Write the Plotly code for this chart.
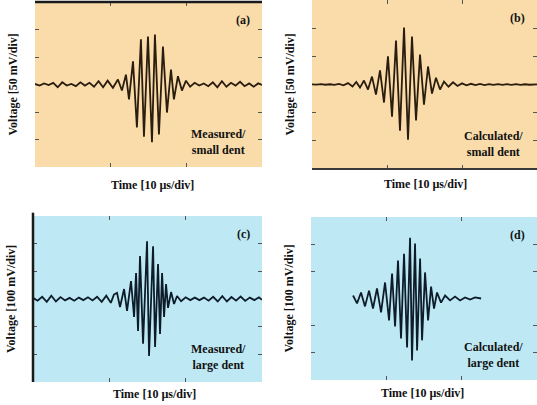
import plotly.graph_objects as go

# ---------------- data (time in µs, voltage in mV) ----------------
# (a) Measured / small dent  (50 mV/div)
t_a = [0.0, 0.6, 1.2, 1.8, 2.4, 3.0, 3.6, 4.2, 4.8, 5.4, 6.0, 6.6, 7.2, 7.8, 8.4, 9.0, 9.6, 10.3,
       10.96, 11.49, 12.02, 12.42, 12.95, 13.47, 14.0, 14.4, 14.93, 15.46, 15.85, 16.38, 16.91,
       17.44, 17.97, 18.36, 18.89, 19.42, 19.95,
       20.5, 21.1, 21.7, 22.3, 22.9, 23.5, 24.1, 24.7, 25.3, 25.9, 26.5, 27.1, 27.7, 28.3, 28.9, 29.5, 30.0]
v_a = [1, -2, 2, -1, 3, -5, 4, -2, 1, -3, 4, -2, 3, -4, 6, -5, 7, -6,
       9, -11, 18, -27, 42, -78, 82, -95, 87, -105, 91, -91, 69,
       -51, 27, -27, 15, -11, 7,
       -4, 3, -2, 2, -3, 4, -5, 6, -4, 3, -2, 5, -3, 2, -4, 2, -1]

# (b) Calculated / small dent  (50 mV/div)
t_b = [0.0, 0.6, 1.2, 1.8, 2.4, 3.0, 3.6, 4.2, 4.8, 5.4, 5.9, 6.4,
       6.93, 7.47, 8.0, 8.53, 9.07, 9.6, 10.13, 10.67, 11.2, 11.73, 12.27, 12.8, 13.33, 13.87,
       14.4, 14.93, 15.47, 16.0, 16.53, 17.07, 17.6,
       18.2, 18.8, 19.4, 20.0, 20.6, 21.2, 21.8, 22.4, 23.0, 23.6, 24.2, 24.8, 25.4, 26.0, 26.6,
       27.2, 27.8, 28.4, 29.0, 30.0]
v_b = [0.3, -0.3, 0.5, -0.4, 0.4, -0.6, 1.0, -1.5, 2.5, -3.5, 4.5, -5.5,
       7, -9, 14, -18, 25, -32, 50, -57, 78, -82, 101, -98, 85, -64,
       53, -36, 32, -16, 12, -9, 5,
       -4, 4, -2.5, 2, -1.5, 1.2, -1.2, 1, -1, 0.8, -0.8, 0.7, -0.7, 0.6, -0.6,
       0.5, -0.5, 0.4, -0.4, 0.3]

# (c) Measured / large dent  (100 mV/div)
t_c = [0.0, 0.6, 1.2, 1.8, 2.4, 3.0, 3.6, 4.2, 4.8, 5.4, 6.0, 6.6, 7.2, 7.8, 8.4, 9.0, 9.6, 10.2, 10.6,
       11.01, 11.40, 11.93, 12.32, 12.84, 13.24, 13.50, 13.76, 14.02, 14.42, 14.94, 15.20, 15.73,
       15.99, 16.38, 16.64, 16.91, 17.17, 17.43, 17.69, 18.09, 18.48, 18.87,
       19.4, 20.0, 20.6, 21.2, 21.8, 22.4, 23.0, 23.6, 24.2, 24.8, 25.4, 26.0, 26.6, 27.2, 27.8,
       28.4, 29.0, 29.6, 30.0]
v_c = [4, -6, 8, -10, 12, -9, 7, -5, 4, -6, 5, -4, 6, -5, 8, -10, 12, -14, 16,
       22, -29, 36, -43, 65, -65, 94, -116, 155, -162, 209, -206, 191,
       -173, 126, -126, 94, -65, 54, -32, 25, -18, 11,
       -8, 6, -4, 5, -4, 5, -6, 8, -9, 10, -9, 7, -6, 9, -7,
       5, -4, 6, -3]

# (d) Calculated / large dent  (100 mV/div)
t_d = [5.58, 6.11, 6.64, 7.17, 7.70, 8.23, 8.76, 9.30, 9.83, 10.36, 10.76, 11.16, 11.55, 11.95,
       12.35, 12.75, 13.15, 13.41, 13.81, 14.08, 14.48, 14.74, 15.14, 15.54, 15.94, 16.33, 16.73,
       17.26, 17.80, 18.46, 19.12, 19.79, 20.45, 21.12, 21.78, 22.58]
v_d = [11, -18, 22, -29, 29, -37, 37, -51, 59, -81, 92, -103, 140, -147,
       165, -180, 224, -228, 202, -191, 147, -154, 96, -81, 44, -37, 22,
       -15, 11, -7, 7, -7, 4, -4, 4, 0]

x_ticks = [10, 20]
y_ticks_small = [-100, -50, 50, 100]
y_ticks_large = [-200, -100, 100, 200]

panel_tags = ["(a)", "(b)", "(c)", "(d)"]
panel_notes = ["Measured/<br>small dent", "Calculated/<br>small dent",
               "Measured/<br>large dent", "Calculated/<br>large dent"]
x_titles = ["Time [10 µs/div]"] * 4
y_titles = ["Voltage [50 mV/div]", "Voltage [50 mV/div]",
            "Voltage [100 mV/div]", "Voltage [100 mV/div]"]

# ---------------- layout geometry ----------------
W, H = 537, 405
def px_x(p):
    return p / W
def px_y(p):
    return 1 - p / H

panels = [
    dict(t=t_a, v=v_a, xd=[px_x(35), px_x(262)], yd=[px_y(167), px_y(2)], yr=150,
         yt=y_ticks_small, bg="#F9DCAA", lc="#2a1c0e", xt=(152, 185)),
    dict(t=t_b, v=v_b, xd=[px_x(312), 1.0], yd=[px_y(169), 1.0], yr=150,
         yt=y_ticks_small, bg="#F9DCAA", lc="#2a1c0e", xt=(425, 184)),
    dict(t=t_c, v=v_c, xd=[px_x(33), px_x(262)], yd=[px_y(382), px_y(216)], yr=300,
         yt=y_ticks_large, bg="#BEE9F4", lc="#0e1c2a", xt=(155, 394)),
    dict(t=t_d, v=v_d, xd=[px_x(311), 1.0], yd=[px_y(380), px_y(217)], yr=300,
         yt=y_ticks_large, bg="#BEE9F4", lc="#0e1c2a", xt=(422, 393)),
]

fig = go.Figure()
shapes = []
annotations = []
font_main = dict(family="Liberation Serif", size=12, color="#111111")

for i, p in enumerate(panels):
    n = "" if i == 0 else str(i + 1)
    fig.add_trace(go.Scatter(x=p["t"], y=p["v"], mode="lines",
                             line=dict(color=p["lc"], width=1.8),
                             xaxis="x" + n, yaxis="y" + n, showlegend=False,
                             hoverinfo="skip"))
    fig.layout["xaxis" + n] = dict(domain=p["xd"], anchor="y" + n, range=[0, 30],
                                   showgrid=False, zeroline=False, showticklabels=False,
                                   tickvals=x_ticks, ticks="inside", ticklen=4,
                                   tickcolor="#555555", mirror="ticks", showline=False)
    fig.layout["yaxis" + n] = dict(domain=p["yd"], anchor="x" + n,
                                   range=[-p["yr"], p["yr"]],
                                   showgrid=False, zeroline=False, showticklabels=False,
                                   tickvals=p["yt"], ticks="inside", ticklen=4,
                                   tickcolor="#555555", mirror="ticks", showline=False)
    # panel background
    shapes.append(dict(type="rect", xref="x" + n + " domain", yref="y" + n + " domain",
                       x0=0, x1=1, y0=0, y1=1, fillcolor=p["bg"], line=dict(width=0),
                       layer="below"))
    x0, x1 = p["xd"]
    y0, y1 = p["yd"]
    # tag (a)...(d)
    annotations.append(dict(text="<b>" + panel_tags[i] + "</b>", xref="paper", yref="paper",
                            x=x1 - 10 / W, y=y1 - 9 / H, xanchor="right", yanchor="top",
                            showarrow=False, font=font_main))
    # note text
    annotations.append(dict(text="<b>" + panel_notes[i] + "</b>", xref="paper", yref="paper",
                            x=x1 - 44 / W, y=y0 + 8 / H, xanchor="center", yanchor="bottom",
                            align="center", showarrow=False, font=font_main))
    # x title
    annotations.append(dict(text="<b>" + x_titles[i] + "</b>", xref="paper", yref="paper",
                            x=px_x(p["xt"][0]), y=px_y(p["xt"][1]), xanchor="center",
                            yanchor="middle", showarrow=False, font=font_main))
    # y title
    annotations.append(dict(text="<b>" + y_titles[i] + "</b>", xref="paper", yref="paper",
                            x=x0 - 22 / W, y=(y0 + y1) / 2, xanchor="center", yanchor="middle",
                            textangle=-90, showarrow=False, font=font_main))

# dark frame edges visible in the reference scan
shapes.append(dict(type="line", xref="x domain", yref="y domain", x0=0, x1=1, y0=1, y1=1,
                   line=dict(color="#1a1a1a", width=2.5)))
shapes.append(dict(type="line", xref="x2 domain", yref="y2 domain", x0=0, x1=1, y0=0, y1=0,
                   line=dict(color="#3a3a3a", width=2)))
shapes.append(dict(type="line", xref="x3 domain", yref="y3 domain", x0=0, x1=0, y0=0, y1=1.02,
                   line=dict(color="#1a1a1a", width=2.5)))

fig.update_layout(width=W, height=H, margin=dict(l=0, r=0, t=0, b=0),
                  paper_bgcolor="white", plot_bgcolor="rgba(0,0,0,0)",
                  shapes=shapes, annotations=annotations)

fig.write_html("out.html", config={"displayModeBar": False},
               post_script="document.body.style.margin='0px';document.body.style.overflow='hidden';")
